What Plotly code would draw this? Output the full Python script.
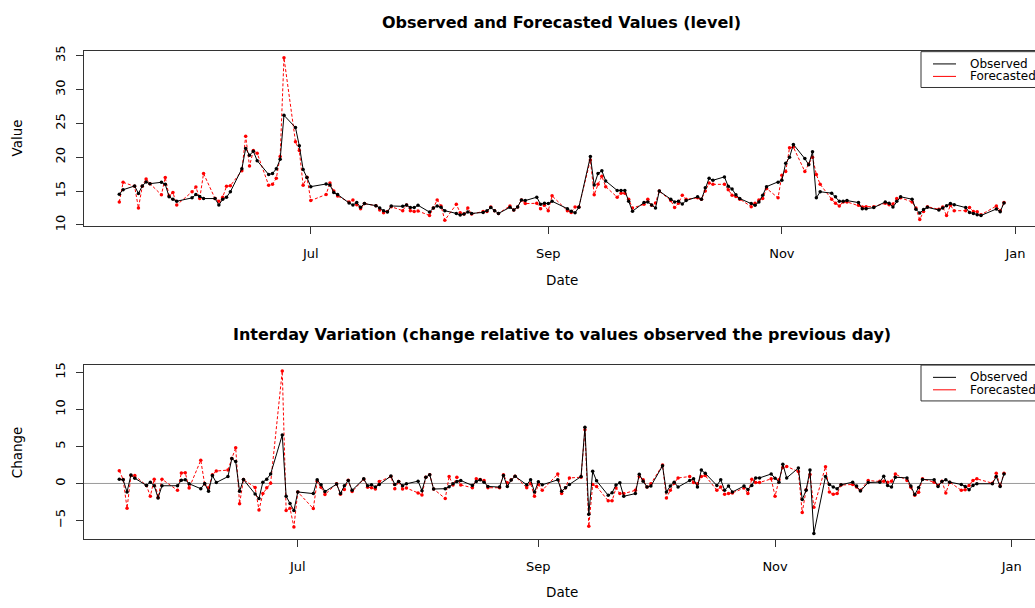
import pandas as pd
import plotly.graph_objects as go

# ---------------- data ----------------
months = {
    5: [12, 13, 16, 17, 18, 19, 20, 23, 24, 25, 26, 27, 31],
    6: [1, 2, 3, 6, 7, 8, 9, 10, 13, 14, 15, 16, 17, 20, 21, 22, 23, 24, 27, 28, 29, 30],
    7: [1, 5, 6, 7, 8, 11, 12, 13, 14, 15, 18, 19, 20, 21, 22, 25, 26, 27, 28, 29],
    8: [1, 2, 3, 4, 5, 8, 9, 10, 11, 12, 15, 16, 17, 18, 19, 22, 23, 24, 25, 26, 29, 30, 31],
    9: [1, 2, 6, 7, 8, 9, 12, 13, 14, 15, 16, 19, 20, 21, 22, 23, 26, 27, 28, 29, 30],
    10: [3, 4, 5, 6, 7, 10, 11, 12, 13, 14, 17, 18, 19, 20, 21, 24, 25, 26, 27, 28, 31],
    11: [1, 2, 3, 4, 7, 8, 9, 10, 11, 14, 15, 16, 17, 18, 21, 22, 23, 25, 28, 29, 30],
    12: [1, 2, 5, 6, 7, 8, 9, 12, 13, 14, 15, 16, 19, 20, 21, 22, 23, 27, 28, 29, 30],
}
trading_days = [f"2016-{m:02d}-{d:02d}" for m, days in months.items() for d in days]
level_dates = trading_days[:-1]      # 2016-05-12 .. 2016-12-29
change_dates = trading_days[2:]      # 2016-05-16 .. 2016-12-30

observed_level = [
    14.55, 15.2, 15.76, 14.64, 15.76, 16.34, 16.1, 16.3, 16.0, 14.16, 13.8, 13.5, 14.0,
    14.5, 14.2, 13.9, 13.9, 12.95, 13.8, 14.1, 14.9, 18.3, 21.3, 20.3, 20.9, 19.5, 17.45, 17.6, 18.3, 19.7, 26.2, 24.4, 21.7, 18.2, 17.0,
    15.66, 16.05, 15.9, 14.8, 14.5, 13.24, 12.95, 13.3, 12.6, 13.15, 12.85, 12.5, 12.1, 11.9, 12.8, 12.75, 12.95, 12.56, 12.56, 12.9,
    11.9, 12.5, 12.8, 12.6, 12.1, 11.7, 11.45, 11.6, 11.9, 11.7, 11.85, 12.1, 12.56, 12.1, 11.7, 12.6, 12.2, 12.66, 13.7, 13.6, 14.1, 13.05, 13.2,
    13.15, 13.5, 12.4, 12.03, 11.8, 12.6, 20.1, 15.9, 17.6, 18.0, 16.5, 15.1, 15.1, 15.1, 13.5, 12.03, 13.3, 13.4, 12.95, 12.5, 15.0,
    13.8, 13.4, 13.5, 13.1, 13.6, 14.16, 13.8, 15.5, 16.9, 16.6, 17.1, 15.7, 15.3, 14.45, 13.9, 13.15, 12.9, 13.4, 14.4, 15.66, 16.3,
    16.6, 19.1, 20.0, 21.9, 19.8, 18.9, 20.8, 14.0, 14.9, 14.7, 14.16, 13.5, 13.5, 13.6, 13.3, 12.4, 12.4, 12.56, 13.4, 13.2, 12.66,
    13.5, 14.16, 13.8, 12.3, 11.75, 12.28, 12.6, 12.2, 12.5, 12.85, 13.15, 13.0, 12.56, 11.84, 11.7, 11.5, 11.4, 12.35, 11.95, 13.25,
]
forecast_level = [
    13.4, 16.3, 15.7, 12.5, 15.7, 16.8, 16.1, 14.45, 17.0, 14.3, 14.8, 12.95, 14.9,
    15.6, 13.9, 17.6, 13.9, 13.5, 14.1, 15.7, 15.8, 18.0, 23.1, 18.7, 21.0, 20.6, 15.85, 16.0, 16.9, 20.1, 34.7, 22.3, 21.0, 15.85, 17.05,
    13.6, 14.5, 16.2, 15.0, 14.26, 13.4, 13.7, 13.0, 12.4, 13.15, 12.85, 12.2, 11.8, 12.0, 12.7, 12.1, 12.95, 12.1, 12.0, 12.05,
    11.4, 12.5, 13.7, 12.8, 10.7, 13.05, 11.8, 11.6, 12.5, 11.6, 12.0, 12.0, 12.66, 12.1, 11.7, 12.8, 12.2, 12.66, 13.7, 13.15, 13.2, 12.4, 12.9,
    12.1, 14.3, 12.1, 11.85, 12.66, 12.66, 19.6, 14.45, 16.0, 17.2, 15.66, 14.1, 14.7, 14.7, 13.8, 12.5, 13.05, 13.8, 12.9, 13.24, 15.0,
    13.6, 12.56, 13.2, 14.4, 13.8, 14.0, 13.8, 15.0, 16.2, 16.0, 16.0, 15.2, 14.4, 14.2, 13.8, 12.7, 13.2, 13.7, 13.9, 15.4, 14.0,
    17.35, 17.9, 21.4, 21.5, 17.9, 19.0, 20.0, 17.45, 16.0, 13.8, 13.2, 12.8, 13.4, 13.4, 12.9, 12.66, 12.7, 12.7, 13.2, 13.0, 13.1,
    13.9, 14.0, 13.4, 12.5, 10.8, 12.0, 12.7, 12.3, 12.66, 11.4, 12.9, 12.1, 12.1, 12.56, 12.0, 11.95, 11.5, 12.8, 12.1, 13.3,
]
observed_change = [
    0.58, 0.49, -1.15, 1.15, 0.71, -0.27, 0.18, -0.31, -1.95, -0.31, -0.31,
    0.44, 0.49, -0.04, -0.71, 0.0, -1.06, 1.06, 0.13, 0.93, 3.36, 2.96, -1.06, 0.53, -1.42, -2.04, 0.18, 0.58, 1.28, 6.55, -1.73, -2.7, -3.67,
    -1.15, -1.37, 0.49, -0.18, -1.1, -0.09, -1.37, -0.31, 0.4, -0.93, 0.62, -0.31, -0.18, -0.49, -0.13, 1.0, -0.13, 0.27, -0.31, -0.04,
    0.31, -0.97, 0.84, 1.19, -0.75, -0.71, -0.44, -0.04, 0.27, 0.4, -0.27, 0.27, 0.49, 0.18, -0.4, -0.49, 1.06, -0.4, 0.46, 0.97, -0.18, 0.5, -1.15,
    0.22, -0.18, 0.49, -1.06, -0.58, -0.13, 0.93, 7.6, -4.16, 1.64, 0.35, -1.6, -1.24, -0.22, 0.09, -1.73, -1.37, 1.24, 0.31, -0.49, -0.35,
    2.39, -1.15, -0.35, 0.18, -0.49, 0.4, 0.62, -0.49, 1.81, 1.37, -0.27, 0.49, -0.93, -0.35, -1.15, -0.35, -0.8, -0.27, 0.75, 0.75, 1.28,
    0.71, 0.18, 2.6, 0.75, 2.08, -2.17, -0.93, 1.81, -6.77, 0.93, -0.13, -0.49, -0.71, -0.18, 0.18, -0.35, -1.02, 0.13, 0.18, 0.97, -0.27,
    -0.49, 0.84, 0.75, -0.36, -1.5, -0.55, 0.53, 0.49, -0.4, 0.27, 0.49, 0.18, -0.13, -0.4, -0.84, -0.27, -0.04, -0.04, 0.93, -0.4, 1.28,
]
forecast_change = [
    1.73, 0.53, -3.36, 1.06, 1.06, -0.27, -1.73, 0.58, -1.9, 0.58, -0.93,
    1.42, 1.46, -0.62, 3.14, -0.09, -0.62, 1.19, 1.68, 1.81, 3.36, 4.82, -2.74, 0.53, -0.53, -3.58, -1.37, -0.58, 0.04, 15.2, -3.67, -3.36, -5.88,
    -1.15, -3.4, 0.31, -0.5, -1.5, -0.04, -1.46, -0.8, 0.44, -1.1, 0.58, -0.5, -0.58, -0.75, 0.27, 0.93, -0.71, 0.27, -0.75, -0.62,
    -1.28, -1.55, 0.84, 1.19, -0.75, -2.04, 0.93, -0.2, 0.84, -0.2, -0.58, 0.62, 0.53, 0.4, -0.58, -0.58, 1.19, 0.1, 0.5, 0.97, -0.58, 0.0, -1.73,
    -0.13, -0.93, 1.28, -1.37, -0.58, 0.75, 0.84, 7.26, -5.8, -0.13, -0.4, -2.35, -2.35, -0.62, -1.37, -1.37, -0.93, 0.93, 0.49, -0.49, -0.04,
    2.48, -1.95, -0.93, 0.04, 0.75, 0.93, 0.13, -0.04, 0.93, 1.06, -0.93, -0.49, -1.46, -1.37, -1.28, -0.62, -1.37, 0.58, 0.13, 0.13, 0.62,
    -1.73, 0.49, 2.17, 2.3, 1.6, -3.94, -0.84, 1.2, -3.23, 2.26, -1.15, -1.46, -1.37, -0.22, -0.13, -0.49, -0.93, 0.4, 0.31, 0.31, 0.18,
    0.31, 1.28, 0.4, -0.5, -1.6, -1.2, 0.62, 0.18, -0.27, 0.31, -1.28, 0.18, -0.93, -0.84, -0.27, 0.4, 0.62, 0.04, 1.37, -0.31, 1.37,
]

month_ticks = ["2016-07-01", "2016-09-01", "2016-11-01", "2017-01-01"]
month_labels = ["Jul", "Sep", "Nov", "Jan"]
value_ticks = [10, 15, 20, 25, 30, 35]
change_ticks = [-5, 0, 5, 10, 15]
series_names = ["Observed", "Forecasted"]

# ---------------- layout helpers (pixel geometry) ----------------
W, H = 1035, 608
FONT = "DejaVu Sans"
AXIS_COLOR = "#333333"


def fx(p):
    return p / W


def fy(p):
    return 1 - p / H


PLOT_LEFT = 83.9
PLOT_RIGHT_FULL = 1039.4   # R plot region extends slightly past the image edge


def date_range(dates):
    d = pd.to_datetime(pd.Series(dates))
    span = d.max() - d.min()
    lo = d.min() - span * 0.04
    hi = d.max() + span * 0.04
    hi_vis = lo + (hi - lo) * ((W - PLOT_LEFT) / (PLOT_RIGHT_FULL - PLOT_LEFT))
    return [lo.isoformat(), hi_vis.isoformat()]


fig = go.Figure()

# top panel
fig.add_trace(go.Scatter(x=level_dates, y=forecast_level, mode="lines+markers",
                         name=series_names[1], line=dict(color="red", width=1, dash="3px,2px"),
                         marker=dict(size=3.5, color="red"), xaxis="x", yaxis="y"))
fig.add_trace(go.Scatter(x=level_dates, y=observed_level, mode="lines+markers",
                         name=series_names[0], line=dict(color="black", width=1),
                         marker=dict(size=3.5, color="black"), xaxis="x", yaxis="y"))
# bottom panel
fig.add_trace(go.Scatter(x=change_dates, y=forecast_change, mode="lines+markers",
                         name=series_names[1], line=dict(color="red", width=1, dash="3px,2px"),
                         marker=dict(size=3.5, color="red"), xaxis="x2", yaxis="y2"))
fig.add_trace(go.Scatter(x=change_dates, y=observed_change, mode="lines+markers",
                         name=series_names[0], line=dict(color="black", width=1),
                         marker=dict(size=3.5, color="black"), xaxis="x2", yaxis="y2"))

tickfont = dict(family=FONT, size=13, color="black")
common_x = dict(showgrid=False, zeroline=False, showline=True, mirror=True, linecolor=AXIS_COLOR,
                linewidth=1, ticks="outside", ticklen=7, tickcolor=AXIS_COLOR,
                tickvals=month_ticks, ticktext=month_labels, tickfont=tickfont,
                ticklabelstandoff=8, type="date")
common_y = dict(showgrid=False, zeroline=False, showline=True, mirror=False, linecolor=AXIS_COLOR,
                linewidth=1, ticks="outside", ticklen=7, tickcolor=AXIS_COLOR, tickfont=tickfont,
                tickangle=-90, ticklabelstandoff=6)

fig.update_layout(
    width=W, height=H, margin=dict(l=0, r=0, t=0, b=0),
    paper_bgcolor="white", plot_bgcolor="white", showlegend=False,
    xaxis=dict(domain=[fx(PLOT_LEFT), 1], range=date_range(level_dates), anchor="y", **common_x),
    yaxis=dict(domain=[fy(224), fy(46)], range=[9.85, 35.68], anchor="x",
               tickvals=value_ticks, **common_y),
    xaxis2=dict(domain=[fx(PLOT_LEFT), 1], range=date_range(change_dates), anchor="y2", **common_x),
    yaxis2=dict(domain=[fy(543.3), fy(365.7)], range=[-7.57, 16.0], anchor="x2",
                tickvals=change_ticks, **common_y),
)

# zero reference line in the bottom panel
fig.add_shape(type="line", xref="paper", yref="y2", x0=fx(PLOT_LEFT), x1=1, y0=0, y1=0,
              line=dict(color="#9a9a9a", width=1), layer="below")

center_x = fx((PLOT_LEFT + PLOT_RIGHT_FULL) / 2)
annots = [
    dict(text="<b>Observed and Forecasted Values (level)</b>", x=center_x, y=fy(17), size=16),
    dict(text="<b>Interday Variation (change relative to values observed the previous day)</b>",
         x=center_x, y=fy(335), size=16),
    dict(text="Date", x=center_x, y=fy(279), size=13.5),
    dict(text="Date", x=center_x, y=fy(597), size=13.5),
]
for a in annots:
    fig.add_annotation(text=a["text"], x=a["x"], y=a["y"], xref="paper", yref="paper",
                       showarrow=False, xanchor="center", yanchor="middle",
                       font=dict(family=FONT, size=a["size"], color="black"))
for text, ypx in [("Value", 135), ("Change", 454.5)]:
    fig.add_annotation(text=text, x=fx(17), y=fy(ypx), xref="paper", yref="paper",
                       showarrow=False, textangle=-90, xanchor="center", yanchor="middle",
                       font=dict(family=FONT, size=13.5, color="black"))

# legends (R-style boxed legend in the top-right corner of each panel)
for top in (46.5, 365.7):
    fig.add_shape(type="rect", xref="paper", yref="paper", x0=fx(921), x1=fx(1045),
                  y0=fy(top), y1=fy(top + 36.5), line=dict(color=AXIS_COLOR, width=1),
                  fillcolor="white", layer="above")
    for i, (name, color) in enumerate(zip(series_names, ["black", "red"])):
        yy = top + 12.5 + 12.7 * i
        fig.add_shape(type="line", xref="paper", yref="paper", x0=fx(933), x1=fx(956),
                      y0=fy(yy), y1=fy(yy), line=dict(color=color, width=1), layer="above")
        fig.add_annotation(text=name, x=fx(968), y=fy(yy), xref="paper", yref="paper",
                           showarrow=False, xanchor="left", yanchor="middle",
                           font=dict(family=FONT, size=12, color="black"))

fig.write_html("out.html", config={"displayModeBar": False},
               post_script="document.body.style.margin='0px';")
